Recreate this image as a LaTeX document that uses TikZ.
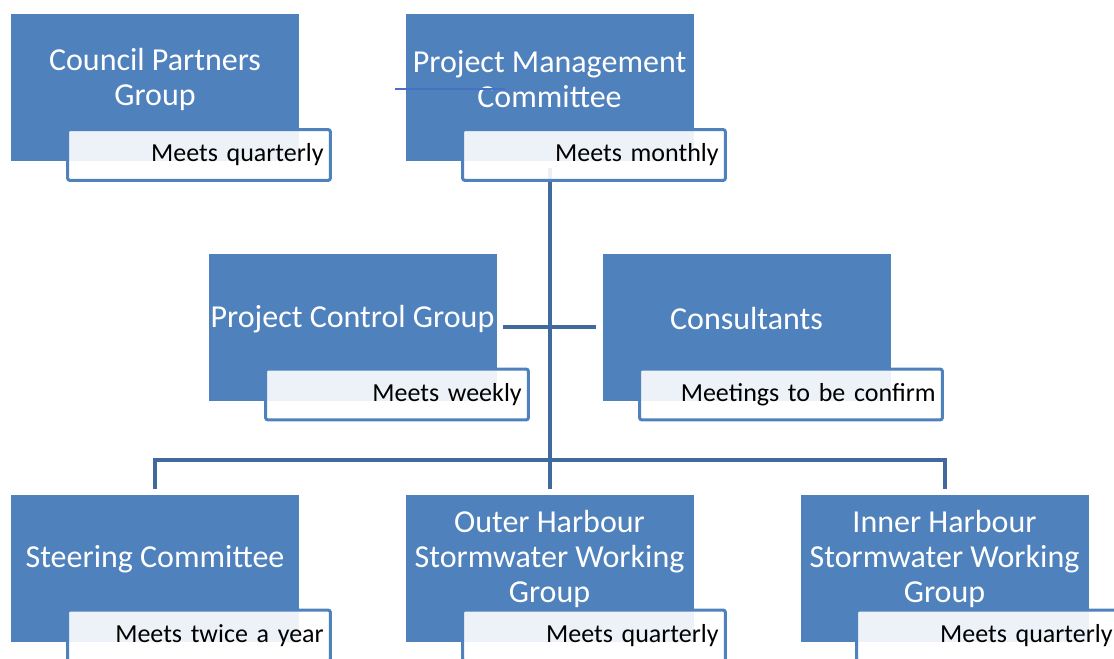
\documentclass[tikz,border=0pt]{standalone}
\usepackage{fontspec}
\setmainfont{Carlito}
\usepackage{tikz}
\pgfdeclarelayer{background}
\pgfsetlayers{background,main}
\definecolor{unitblue}{RGB}{79,129,189}
\definecolor{linkblue}{RGB}{64,106,158}
\definecolor{stray}{RGB}{68,114,196}
\tikzset{
  unit/.style = {fill=unitblue, draw=none, minimum width=216pt, minimum height=110.25pt, inner sep=0pt},
  title/.style = {text=white, align=center, font=\fontsize{24}{26.25}\selectfont},
  meet/.style = {draw=unitblue, line width=2.25pt, fill=white, fill opacity=0.9, text opacity=1,
    rounded corners=1.5pt, minimum height=38pt, inner xsep=5pt, inner ysep=0pt,
    text width=#1, align=right, font=\fontsize{19.5}{22}\selectfont},
  meet/.default = {187pt},
  link/.style = {draw=linkblue, line width=3pt}
}

\begin{document}
\begin{tikzpicture}[x=0.75pt,y=-0.75pt]

  \useasboundingbox (0,0) rectangle (1114,659);

  % top row
  \node[unit] (cp) at (155,87.5) {};
  \node[unit] (pmc) at (549.5,87.5) {};
  % middle row
  \node[unit] (pcg) at (352.5,327.5) {};
  \node[unit] (cons) at (746.5,327.5) {};
  % bottom row
  \node[unit] (steer) at (155,568.5) {};
  \node[unit] (outer) at (549.5,568.5) {};
  \node[unit] (inner) at (944.5,568.5) {};

  \node[meet] (cpMeet) at (199,155) {Meets quarterly};
  \node[meet] (pmcMeet) at (594,155) {Meets monthly};
  \node[meet] (pcgMeet) at (397,394.5) {Meets weekly};
  \node[meet=217pt] (consMeet) at (791,394.5) {Meetings to be confirm};
  \node[meet] (steerMeet) at (199,635.5) {Meets twice a year};
  \node[meet] (outerMeet) at (594,635.5) {Meets quarterly};
  \node[meet] (innerMeet) at (988,635.5) {Meets quarterly};

  \node[title] (cpText) at (155,79) {Council Partners\\Group};
  \node[title] (pmcText) at (549.5,79) {Project Management\\Committee};
  \node[title] (pcgText) at (352.5,319) {Project Control Group};
  \node[title] (consText) at (746.5,319) {Consultants};
  \node[title] (steerText) at (155,559) {Steering Committee};
  \node[title] (outerText) at (549.5,559) {Outer Harbour\\Stormwater Working\\Group};
  \node[title] (innerText) at (944.5,559) {Inner Harbour\\Stormwater Working\\Group};

  \coordinate (strayA) at (395,89);
  \coordinate (strayB) at (505,89);
  \draw[stray, line width=1pt] (strayA) -- (strayB);

  \begin{pgfonlayer}{background}
    \coordinate (bar) at (549.5,460);
    \draw[link, shorten <=5pt] (pmc.south) -- ([yshift=4.5pt]outer.north);
    \draw[link, shorten <=4.5pt, shorten >=4.5pt] (pcg.east) -- (cons.west);
    \draw[link] ([yshift=4.5pt]steer.north) |- (bar) -| ([yshift=4.5pt]inner.north);
  \end{pgfonlayer}
\end{tikzpicture}
\end{document}
